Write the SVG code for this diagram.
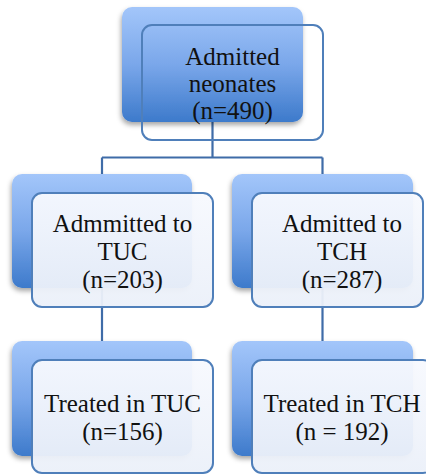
<svg xmlns="http://www.w3.org/2000/svg" width="426" height="474" viewBox="0 0 426 474">
  <defs>
    <linearGradient id="blue" x1="0" y1="0" x2="0" y2="1">
      <stop offset="0" stop-color="#a3c6fa"/>
      <stop offset="0.5" stop-color="#7aa7ea"/>
      <stop offset="1" stop-color="#3d7acb"/>
    </linearGradient>
    <linearGradient id="pale" x1="0" y1="0" x2="0" y2="1">
      <stop offset="0" stop-color="#f7f9fe"/>
      <stop offset="1" stop-color="#ebf0f9"/>
    </linearGradient>
    <filter id="shadow" x="-10%" y="-10%" width="125%" height="130%">
      <feDropShadow dx="-1" dy="3" stdDeviation="2.5" flood-color="#000" flood-opacity="0.35"/>
    </filter>
  </defs>
  <style>
    .back { fill: url(#blue); filter: url(#shadow); }
    .front { fill: url(#pale); fill-opacity: 0.95; stroke: #4f7fba; stroke-width: 2; }
    .outline { fill: none; stroke: #4f7fba; stroke-width: 2; }
    .conn { fill: none; stroke: #3f6ca8; stroke-width: 2.2; }
    text { font-family: "Liberation Serif", "Times New Roman", serif; font-size: 25px; fill: #111; text-anchor: middle; }
  </style>

  <g id="connectors">
    <path class="conn" d="M212.5 118 V157.5 M102 157.5 H322.5 M102 157.5 V180 M322.5 157.5 V180"/>
    <path class="conn" d="M102 280 V345"/>
    <path class="conn" d="M322.5 280 V345"/>
  </g>

  <g id="node-admitted">
    <rect class="back" x="122" y="7" width="181" height="115" rx="10"/>
    <rect class="outline" x="142" y="25" width="181" height="115" rx="10"/>
    <text x="232.5" y="65">Admitted</text>
    <text x="232.5" y="92">neonates</text>
    <text x="232.5" y="118.5">(n=490)</text>
  </g>

  <g id="node-tuc">
    <rect class="back" x="12" y="174" width="180" height="114" rx="10"/>
    <rect class="front" x="32" y="193" width="181" height="114" rx="10"/>
    <text x="122.5" y="232">Admmitted to</text>
    <text x="122.5" y="260">TUC</text>
    <text x="122.5" y="288">(n=203)</text>
  </g>

  <g id="node-tch">
    <rect class="back" x="232" y="174" width="181" height="114" rx="10"/>
    <rect class="front" x="252" y="193" width="171" height="114" rx="10"/>
    <text x="342" y="232">Admitted to</text>
    <text x="342" y="260">TCH</text>
    <text x="342" y="288">(n=287)</text>
  </g>

  <g id="node-treated-tuc">
    <rect class="back" x="12" y="341" width="180" height="115" rx="10"/>
    <rect class="front" x="32" y="360" width="181" height="113" rx="10"/>
    <text x="122.5" y="412">Treated in TUC</text>
    <text x="122.5" y="440">(n=156)</text>
  </g>

  <g id="node-treated-tch">
    <rect class="back" x="232" y="341" width="181" height="115" rx="10"/>
    <rect class="front" x="252" y="360" width="181" height="113" rx="10"/>
    <text x="342" y="412">Treated in TCH</text>
    <text x="342" y="440">(n = 192)</text>
  </g>
</svg>
